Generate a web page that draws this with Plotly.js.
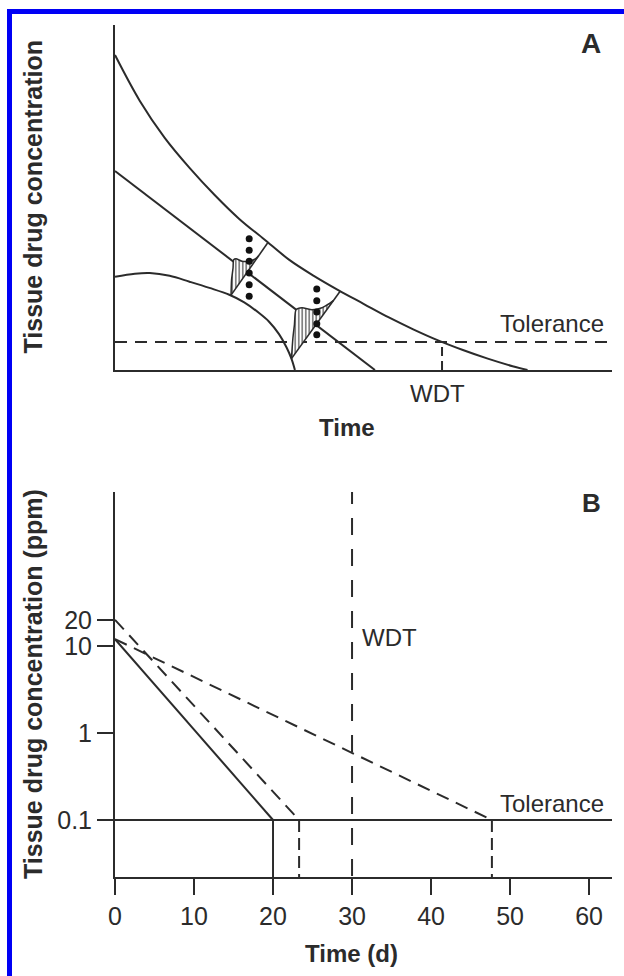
<!DOCTYPE html>
<html>
<head>
<meta charset="utf-8">
<script src="https://cdn.plot.ly/plotly-3.0.1.min.js"></script>
<style>html,body{margin:0;padding:0;background:#fff;}#chart{width:624px;height:976px;}</style>
</head>
<body>
<div id="chart"></div>
<script>
// ---------- Panel A (schematic, arbitrary units) ----------
const aUpperTime = [0,5,10,15,20,25,30,35,40,45,50,55,60,65,70,75,80,83];
const aUpperConc = [91.3,78.0,67.3,58.6,50.8,43.8,37.9,32.0,27.3,23.1,19.2,15.3,11.8,8.6,5.8,3.3,1.1,0];
const aMidTime = [0,52.3];
const aMidConc = [57.7,0];
const aLowTime = [0,4,7,11,15,19,23,26,29,31,33,34.5,35.5,36.2];
const aLowConc = [27.0,27.9,28.1,27.3,25.6,23.8,21.8,19.6,16.5,14.0,10.4,6.6,3.3,0];
const aTolerance = 8.1;
const aWdt = 65.8;
const aTimeEnd = 100;
// cross-section lines and distribution outlines
const aCross1Time = [23.35,30.7];
const aCross1Conc = [21.7,36.8];
const aCross2Time = [35.5,45.3];
const aCross2Conc = [3.3,22.8];
const aDist1Time = [23.35,23.45,23.75,23.88,24.35,25.55,26.90,28.23,28.92];
const aDist1Conc = [21.7,26.09,29.57,31.97,32.26,31.51,31.51,32.17,33.1];
const aDist2Time = [35.5,35.8,36.1,36.42,37.63,39.64,41.65,43.32,44.0];
const aDist2Conc = [3.3,9.3,13.1,17.48,18.06,17.48,18.06,19.48,20.2];
const aDots1Time = [27.0,27.0,27.0,27.0,27.0,27.0];
const aDots1Conc = [38.06,34.70,31.51,28.12,24.72,21.36];
const aDots2Time = [40.6,40.6,40.6,40.6,40.6];
const aDots2Conc = [23.48,20.09,16.81,13.42,10.23];

// ---------- Panel B ----------
const bSolidTime = [0,20];
const bSolidConc = [12,0.1];
const bFastTime = [0,23.3];
const bFastConc = [20,0.1];
const bSlowTime = [0,47.7];
const bSlowConc = [12,0.1];
const bTolerance = 0.1;
const bWdt = 30;
const bTimeEnd = 62.9;
const bFloor = 0.01;
const bTop = 1000;
const bXTicks = [0,10,20,30,40,50,60];
const bYTicks = [0.1,1,10,20];
const bYTickText = ['0.1','1','10','20'];

const ink = '#2b2b2b';
const FONT = 'Arial, Liberation Sans, Helvetica, sans-serif';

function line(x, y, xa, ya, dash, w) {
  return {x: x, y: y, xaxis: xa, yaxis: ya, type: 'scatter', mode: 'lines',
    line: {color: ink, width: w || 2, dash: dash || 'solid'}, hoverinfo: 'skip'};
}

const traces = [];
// Panel A
const up = line(aUpperTime, aUpperConc, 'x', 'y'); up.line.shape = 'spline'; traces.push(up);
traces.push(line(aMidTime, aMidConc, 'x', 'y'));
const low = line(aLowTime, aLowConc, 'x', 'y'); low.line.shape = 'spline'; traces.push(low);
traces.push(line([0, aTimeEnd], [aTolerance, aTolerance], 'x', 'y', '12px,8px'));
traces.push(line([aWdt, aWdt], [0, aTolerance], 'x', 'y', '9px,5px'));
[[aDist1Time, aDist1Conc], [aDist2Time, aDist2Conc]].forEach(function (d) {
  traces.push({x: d[0], y: d[1], xaxis: 'x', yaxis: 'y', type: 'scatter', mode: 'lines',
    fill: 'toself', fillcolor: 'rgba(255,255,255,0)',
    fillpattern: {shape: '|', size: 3.5, solidity: 0.3, fgcolor: ink, bgcolor: 'white'},
    line: {color: ink, width: 1.5, shape: 'spline', smoothing: 0.6}, hoverinfo: 'skip'});
});
traces.push(line(aCross1Time, aCross1Conc, 'x', 'y', 'solid', 1.6));
traces.push(line(aCross2Time, aCross2Conc, 'x', 'y', 'solid', 1.6));
[[aDots1Time, aDots1Conc], [aDots2Time, aDots2Conc]].forEach(function (d) {
  traces.push({x: d[0], y: d[1], xaxis: 'x', yaxis: 'y', type: 'scatter', mode: 'markers',
    marker: {size: 7, color: '#111'}, hoverinfo: 'skip'});
});
// Panel B
traces.push(line(bSolidTime, bSolidConc, 'x2', 'y2'));
traces.push(line([bSolidTime[1], bSolidTime[1]], [bTolerance, bFloor], 'x2', 'y2'));
traces.push(line(bFastTime, bFastConc, 'x2', 'y2', '13px,8px'));
traces.push(line([bFastTime[1], bFastTime[1]], [bTolerance, bFloor], 'x2', 'y2', '12px,6px'));
traces.push(line(bSlowTime, bSlowConc, 'x2', 'y2', '13px,8px'));
traces.push(line([bSlowTime[1], bSlowTime[1]], [bTolerance, bFloor], 'x2', 'y2', '12px,6px'));
traces.push(line([0, bTimeEnd], [bTolerance, bTolerance], 'x2', 'y2'));
traces.push(line([bWdt, bWdt], [bFloor, bTop], 'x2', 'y2', '17px,14px'));

const W = 624, H = 976;
const px = v => v / W, py = v => 1 - v / H;

function ann(text, x, y, size, bold, xanchor, angle) {
  return {text: bold ? '<b>' + text + '</b>' : text, xref: 'paper', yref: 'paper',
    x: px(x), y: py(y), xanchor: xanchor || 'center', yanchor: 'middle', showarrow: false,
    textangle: angle || 0, font: {family: FONT, size: size, color: ink}};
}

const baseAxis = {showline: true, linewidth: 2, linecolor: ink, showgrid: false, zeroline: false, fixedrange: true};
const tickFont = {family: FONT, size: 25, color: ink};

const layout = {
  width: W, height: H, margin: {l: 0, r: 0, t: 0, b: 0},
  paper_bgcolor: 'white', plot_bgcolor: 'white', showlegend: false,
  font: {family: FONT, color: ink},
  xaxis: Object.assign({}, baseAxis, {domain: [px(115), px(612)], range: [0, aTimeEnd], anchor: 'y',
    ticks: '', showticklabels: false}),
  yaxis: Object.assign({}, baseAxis, {domain: [py(370), py(25)], range: [0, 100], anchor: 'x',
    ticks: '', showticklabels: false}),
  xaxis2: Object.assign({}, baseAxis, {domain: [px(115), px(612)], range: [0, bTimeEnd], anchor: 'y2',
    ticks: 'outside', ticklen: 16, tickwidth: 2, tickcolor: ink, tickmode: 'array', tickvals: bXTicks,
    tickfont: tickFont}),
  yaxis2: Object.assign({}, baseAxis, {type: 'log', domain: [py(877), py(492)], range: [-1.655, 2.770], anchor: 'x2',
    ticks: 'outside', ticklen: 16, tickwidth: 2, tickcolor: ink, tickmode: 'array', tickvals: bYTicks, ticktext: bYTickText,
    tickfont: tickFont}),
  annotations: [
    ann('Tissue drug concentration', 33, 197.5, 25, true, 'center', -90),
    ann('Time', 347, 427, 24, true),
    ann('A', 591, 43, 28, true),
    ann('Tolerance', 606, 323, 24, false, 'right'),
    ann('WDT', 438, 393, 24, false),
    ann('Tissue drug concentration (ppm)', 33, 684, 25, true, 'center', -90),
    ann('Time (d)', 351, 953, 24, true),
    ann('B', 591, 503, 26, true),
    ann('Tolerance', 606, 803, 24, false, 'right'),
    ann('WDT', 360, 637, 24, false, 'left')
  ],
  shapes: [
    {type: 'rect', xref: 'paper', yref: 'paper', x0: px(7), x1: 1, y0: py(14), y1: py(9), fillcolor: '#0000f5', line: {width: 0}},
    {type: 'rect', xref: 'paper', yref: 'paper', x0: px(7), x1: px(12), y0: 0, y1: py(9), fillcolor: '#0000f5', line: {width: 0}}
  ]
};

Plotly.newPlot('chart', traces, layout, {displayModeBar: false, staticPlot: true});
</script>
</body>
</html>
